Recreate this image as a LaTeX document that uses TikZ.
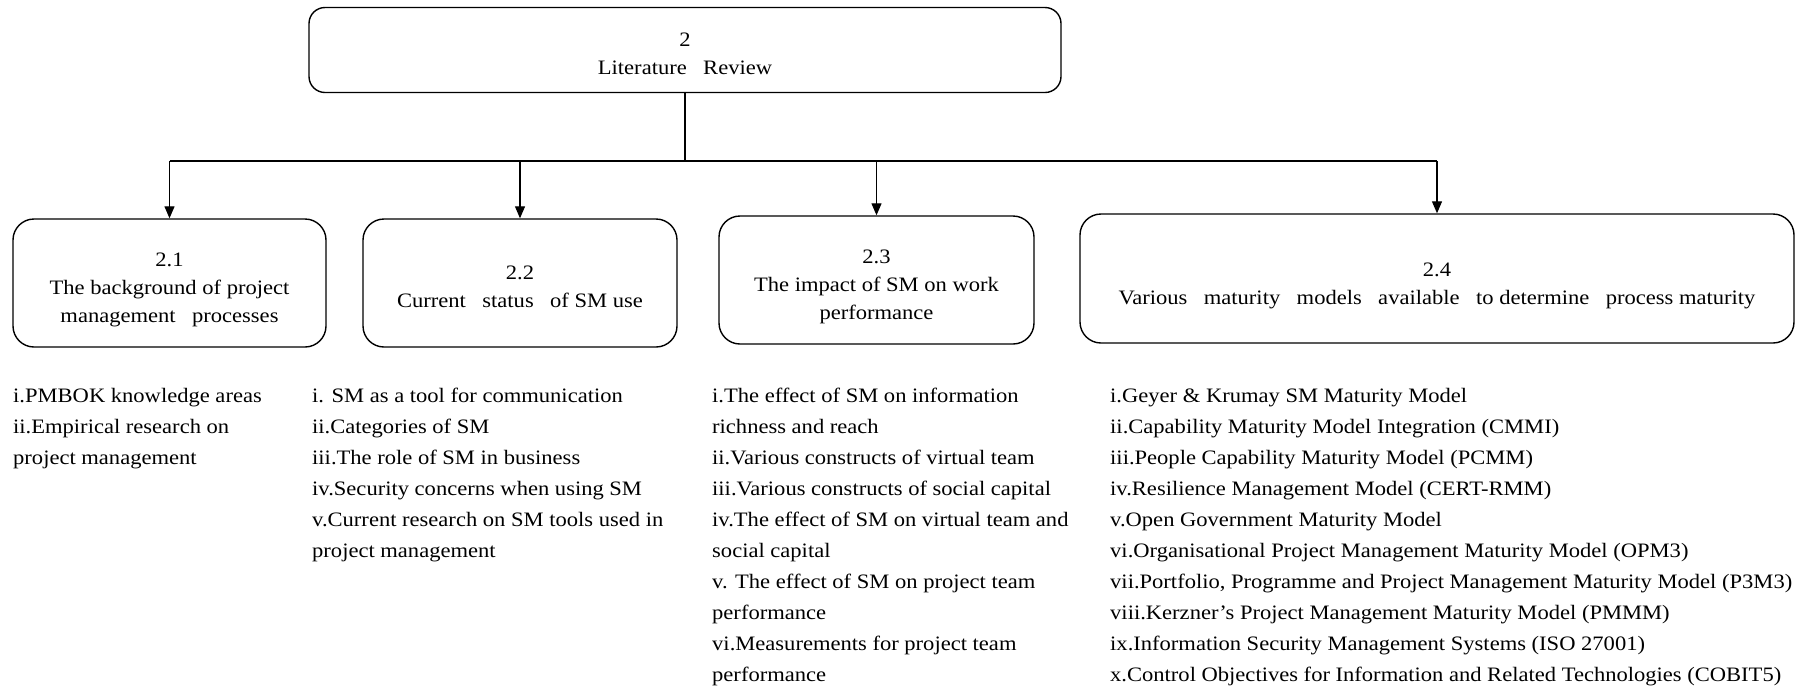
\documentclass[tikz,border=0pt]{standalone}
\usepackage{fontspec}
\setmainfont[FakeStretch=1.1]{Liberation Serif}
\usetikzlibrary{arrows.meta}
\newcommand\wgap{\hspace{0.8em}}
% invisible strut that lowers the text block inside a box
\newcommand\lift[1]{\rule{0pt}{#1}}

\begin{document}
\begin{tikzpicture}[x=1pt,y=-1pt,
  box/.style={draw, line width=1.4pt, rounded corners=21pt, align=center,
    inner sep=0pt, font=\fontsize{20.5}{28}\selectfont},
  list/.style={anchor=north west, align=left, inner sep=0pt,
    font=\fontsize{20.5}{31}\selectfont},
  link/.style={line width=1.4pt},
  arrow/.style={line width=1.2pt, -{Triangle[length=12pt,width=10pt]}}]
\useasboundingbox (0,0) rectangle (1809,689);

% chapter box
\node[box, minimum width=752pt, minimum height=85pt, rounded corners=16pt]
  (top) at (685,50) {\lift{20.5pt}2\\Literature\wgap Review};

% section boxes
\node[box, minimum width=313pt, minimum height=128pt] (b21) at (169.5,283)
  {\lift{28pt}2.1\\The background of project\\management\wgap processes};
\node[box, minimum width=314pt, minimum height=128pt] (b22) at (520,283)
  {\lift{22pt}2.2\\Current\wgap status\wgap of SM use};
\node[box, minimum width=315pt, minimum height=128pt] (b23) at (876.5,280)
  {\lift{28pt}2.3\\The impact of SM on work\\performance};
\node[box, minimum width=714pt, minimum height=129pt] (b24) at (1437,278.5)
  {\lift{28pt}2.4\\Various\wgap maturity\wgap models\wgap available\wgap to determine\wgap process maturity};

% connectors
\coordinate (bus) at (685,161);
\draw[link] (top.south) -- (top.south |- bus);
\draw[link] (b21.north |- bus) -- (b24.north |- bus);
\foreach \b in {b21,b22,b23,b24}
  \draw[arrow] (\b.north |- bus) -- (\b.north);

% topic lists
\node[list] (l21) at (13,388) {i.PMBOK knowledge areas\\ii.Empirical research on\\project management};
\node[list] (l22) at (312,388) {i. SM as a tool for communication\\ii.Categories of SM\\iii.The role of SM in business\\iv.Security concerns when using SM\\v.Current research on SM tools used in\\project management};
\node[list] (l23) at (712,388) {i.The effect of SM on information\\richness and reach\\ii.Various constructs of virtual team\\iii.Various constructs of social capital\\iv.The effect of SM on virtual team and\\social capital\\v. The effect of SM on project team\\performance\\vi.Measurements for project team\\performance};
\node[list] (l24) at (1110,388) {i.Geyer \& Krumay SM Maturity Model\\ii.Capability Maturity Model Integration (CMMI)\\iii.People Capability Maturity Model (PCMM)\\iv.Resilience Management Model (CERT-RMM)\\v.Open Government Maturity Model\\vi.Organisational Project Management Maturity Model (OPM3)\\vii.Portfolio, Programme and Project Management Maturity Model (P3M3)\\viii.Kerzner’s Project Management Maturity Model (PMMM)\\ix.Information Security Management Systems (ISO 27001)\\x.Control Objectives for Information and Related Technologies (COBIT5)};
\end{tikzpicture}
\end{document}
